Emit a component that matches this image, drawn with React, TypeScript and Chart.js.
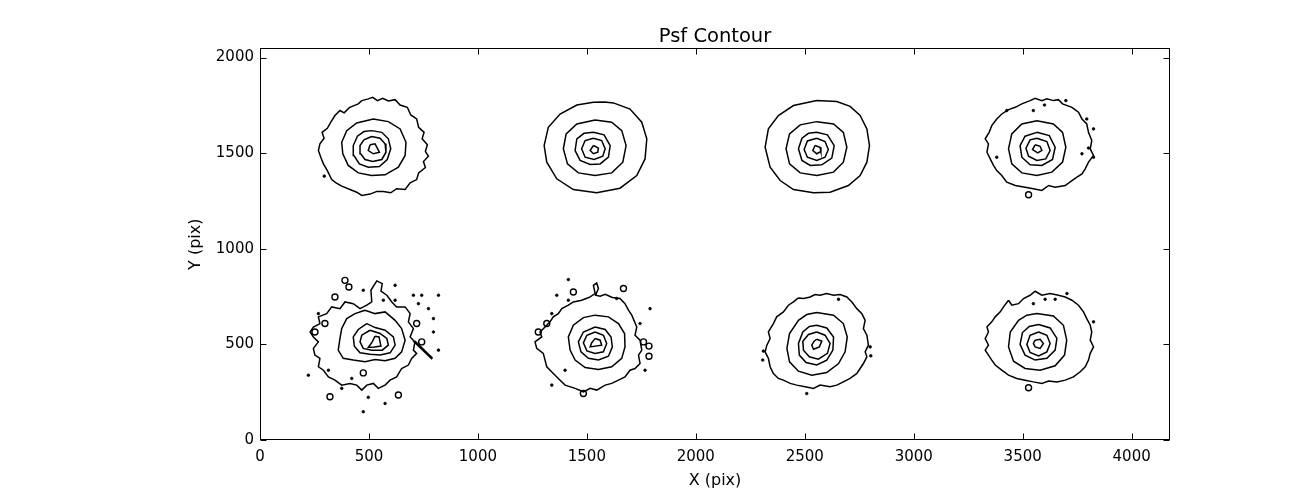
import React, { useEffect, useRef } from "react";
import { Chart, registerables } from "chart.js";

Chart.register(...registerables);

type Pt = [number, number];

// ---- axes / text ----
const X_MAX = 4176;
const Y_MAX = 2048;
const xTicks = [0, 500, 1000, 1500, 2000, 2500, 3000, 3500, 4000];
const yTicks = [0, 500, 1000, 1500, 2000];
const chartTitle = "Psf Contour";
const xTitle = "X (pix)";
const yTitle = "Y (pix)";

// ---- PSF 1 (top left) ----
const psf1Outer: Pt[] = [[467,1775],[497,1784],[517,1792],[539,1775],[563,1787],[589,1773],[620,1780],[643,1752],[676,1740],[692,1700],[719,1679],[728,1635],[753,1609],[744,1575],[768,1544],[759,1509],[773,1484],[750,1456],[759,1425],[728,1397],[719,1362],[689,1345],[666,1310],[627,1314],[600,1293],[566,1300],[536,1300],[505,1286],[467,1279],[444,1296],[413,1310],[375,1328],[349,1345],[329,1362],[309,1409],[291,1444],[279,1479],[268,1514],[275,1549],[294,1578],[285,1609],[309,1630],[325,1662],[344,1697],[367,1723],[386,1711],[410,1738],[431,1749],[451,1758]];
const psf1Ring2: Pt[] = [[520,1679],[589,1665],[643,1627],[670,1557],[666,1488],[635,1427],[574,1387],[512,1383],[451,1397],[405,1436],[380,1497],[375,1557],[398,1618],[444,1658]];
const psf1Ring3: Pt[] = [[512,1618],[559,1609],[589,1575],[600,1523],[584,1467],[548,1430],[497,1427],[456,1444],[431,1488],[428,1540],[447,1589],[477,1613]];
const psf1Ring4: Pt[] = [[512,1587],[551,1578],[574,1549],[578,1505],[559,1467],[517,1456],[482,1467],[462,1497],[459,1540],[477,1570]];
const psf1Core: Pt[] = [[505,1544],[528,1549],[548,1505],[520,1497],[497,1514]];
const psf1Dots: Pt[] = [[295,1380]];

// ---- PSF 2 (top, second) ----
const psf2Outer: Pt[] = [[1530,1766],[1580,1768],[1622,1763],[1698,1731],[1752,1662],[1775,1575],[1767,1470],[1729,1383],[1652,1317],[1545,1293],[1438,1310],[1362,1366],[1316,1453],[1304,1540],[1323,1635],[1377,1705],[1454,1752]];
const psf2Ring2: Pt[] = [[1538,1674],[1614,1662],[1660,1618],[1680,1540],[1665,1453],[1614,1397],[1538,1383],[1461,1397],[1411,1444],[1392,1523],[1405,1601],[1454,1653]];
const psf2Ring3: Pt[] = [[1530,1609],[1579,1596],[1607,1540],[1599,1479],[1561,1444],[1515,1441],[1469,1462],[1446,1514],[1454,1575],[1487,1604]];
const psf2Ring4: Pt[] = [[1530,1578],[1568,1566],[1584,1523],[1573,1484],[1533,1467],[1492,1479],[1476,1523],[1492,1566]];
const psf2Core: Pt[] = [[1530,1540],[1553,1526],[1550,1505],[1530,1497],[1515,1514]];

// ---- PSF 3 (top, third) ----
const psf3Outer: Pt[] = [[2555,1775],[2647,1770],[2708,1745],[2754,1697],[2785,1627],[2797,1540],[2785,1453],[2754,1383],[2700,1331],[2616,1296],[2540,1293],[2448,1310],[2387,1357],[2341,1427],[2318,1531],[2333,1627],[2379,1697],[2448,1749]];
const psf3Ring2: Pt[] = [[2555,1665],[2632,1653],[2677,1609],[2693,1531],[2677,1453],[2632,1401],[2555,1383],[2479,1397],[2430,1444],[2414,1523],[2430,1601],[2479,1648]];
const psf3Ring3: Pt[] = [[2555,1609],[2604,1596],[2635,1540],[2624,1474],[2578,1439],[2525,1436],[2487,1462],[2471,1523],[2487,1578],[2517,1604]];
const psf3Ring4: Pt[] = [[2555,1578],[2593,1561],[2608,1519],[2593,1479],[2555,1462],[2512,1479],[2497,1519],[2512,1564]];
const psf3Core: Pt[] = [[2547,1540],[2570,1531],[2574,1509],[2555,1497],[2537,1514]];

// ---- PSF 4 (top right) ----
const psf4Outer: Pt[] = [[3534,1775],[3557,1787],[3588,1775],[3611,1784],[3641,1775],[3664,1780],[3683,1758],[3726,1740],[3756,1714],[3772,1679],[3794,1653],[3802,1609],[3817,1566],[3810,1523],[3825,1488],[3802,1453],[3787,1418],[3772,1392],[3749,1375],[3726,1357],[3695,1331],[3649,1322],[3619,1331],[3588,1305],[3549,1314],[3511,1322],[3466,1331],[3427,1348],[3404,1383],[3381,1409],[3366,1436],[3351,1470],[3336,1505],[3343,1549],[3328,1575],[3346,1609],[3358,1644],[3381,1679],[3404,1705],[3435,1728],[3466,1740],[3496,1758]];
const psf4Ring2: Pt[] = [[3565,1670],[3641,1653],[3683,1609],[3698,1531],[3683,1453],[3634,1401],[3565,1383],[3496,1397],[3450,1444],[3435,1523],[3450,1601],[3496,1653]];
const psf4Ring3: Pt[] = [[3565,1609],[3622,1592],[3649,1531],[3637,1467],[3588,1436],[3534,1439],[3496,1479],[3488,1540],[3511,1589]];
const psf4Ring4: Pt[] = [[3565,1578],[3611,1561],[3626,1514],[3606,1470],[3565,1462],[3527,1484],[3515,1526],[3534,1570]];
const psf4Core: Pt[] = [[3557,1544],[3580,1536],[3588,1514],[3569,1502],[3545,1519]];
const psf4Dots: Pt[] = [[3427,1723],[3549,1723],[3600,1752],[3698,1775],[3794,1679],[3825,1627],[3802,1527],[3825,1479],[3772,1497],[3381,1479]];
const psf4Loops: Pt[] = [[3527,1283]];

// ---- PSF 5 (bottom left) ----
const psf5Outer: Pt[] = [[513,722],[509,783],[536,832],[561,818],[555,779],[582,757],[605,722],[627,696],[666,696],[689,661],[681,618],[704,583],[689,539],[711,513],[704,470],[719,453],[696,427],[681,392],[650,374],[627,330],[597,313],[574,287],[543,270],[520,296],[490,287],[467,261],[444,287],[413,296],[375,287],[344,313],[314,330],[291,365],[268,383],[275,427],[252,444],[245,479],[268,513],[245,539],[230,565],[245,591],[275,609],[268,644],[306,661],[329,696],[367,687],[390,722],[428,713],[459,687],[490,705]];
const psf5Spur: Pt[] = [[711,518],[790,430],[787,426],[708,512]];
const psf5Ring2: Pt[] = [[482,679],[528,661],[574,670],[620,626],[650,583],[666,522],[650,461],[620,427],[574,414],[528,421],[482,409],[428,418],[382,427],[359,470],[367,531],[375,583],[398,635],[436,661]];
const psf5Ring3: Pt[] = [[490,609],[528,588],[574,574],[612,539],[620,496],[597,456],[551,444],[505,449],[459,456],[433,491],[428,539],[451,578]];
const psf5Ring4: Pt[] = [[505,574],[551,557],[582,531],[589,496],[561,470],[513,470],[474,479],[459,513],[467,548]];
const psf5Core: Pt[] = [[528,543],[546,539],[555,491],[525,487],[497,484],[515,513]];
const psf5Dots: Pt[] = [[474,783],[566,731],[620,809],[620,731],[704,757],[742,757],[819,757],[727,713],[773,687],[796,635],[796,565],[819,470],[268,661],[314,365],[222,339],[375,270],[421,322],[574,191],[474,148],[497,223]];
const psf5Loops: Pt[] = [[390,835],[408,800],[344,748],[719,609],[298,609],[252,565],[635,235],[474,351],[742,513],[321,226]];

// ---- PSF 6 (bottom, second) ----
const psf6Outer: Pt[] = [[1515,748],[1538,766],[1530,809],[1545,821],[1553,792],[1540,757],[1561,752],[1584,762],[1617,745],[1652,740],[1675,713],[1691,679],[1706,653],[1729,591],[1721,548],[1744,522],[1752,470],[1737,444],[1744,400],[1721,374],[1698,365],[1675,330],[1645,313],[1614,296],[1584,287],[1545,261],[1515,270],[1484,252],[1446,270],[1400,287],[1369,322],[1346,348],[1316,383],[1308,418],[1300,453],[1270,479],[1262,513],[1293,539],[1285,565],[1308,591],[1331,618],[1346,644],[1369,661],[1385,687],[1415,705],[1438,722],[1476,731]];
const psf6Ring2: Pt[] = [[1538,653],[1599,644],[1645,609],[1673,557],[1675,487],[1660,427],[1614,383],[1553,369],[1492,379],[1446,418],[1423,470],[1415,539],[1438,600],[1484,640]];
const psf6Ring3: Pt[] = [[1538,591],[1584,578],[1611,539],[1617,487],[1599,438],[1553,418],[1507,427],[1473,461],[1461,513],[1484,565]];
const psf6Ring4: Pt[] = [[1538,565],[1576,548],[1591,505],[1576,461],[1538,453],[1500,466],[1484,508],[1500,548]];
const psf6Core: Pt[] = [[1538,531],[1561,522],[1568,496],[1515,487],[1522,508]];
const psf6Dots: Pt[] = [[1415,839],[1362,757],[1415,731],[1339,661],[1637,740],[1790,687],[1744,609],[1767,365],[1400,365],[1339,287]];
const psf6Loops: Pt[] = [[1438,774],[1316,609],[1277,565],[1668,792],[1760,513],[1785,491],[1785,438],[1484,243]];

// ---- PSF 7 (bottom, third) ----
const psf7Outer: Pt[] = [[2471,743],[2494,740],[2525,748],[2547,761],[2570,757],[2601,766],[2632,757],[2662,761],[2693,748],[2716,722],[2739,687],[2762,661],[2777,626],[2769,583],[2785,548],[2792,496],[2777,461],[2785,435],[2769,400],[2754,374],[2739,348],[2708,322],[2677,304],[2647,287],[2616,278],[2570,287],[2540,270],[2502,278],[2463,287],[2433,296],[2402,313],[2379,322],[2356,348],[2341,383],[2333,427],[2318,461],[2326,496],[2341,531],[2333,565],[2356,609],[2371,644],[2402,670],[2425,705],[2448,722]];
const psf7Ring2: Pt[] = [[2555,667],[2632,653],[2677,609],[2695,539],[2685,461],[2655,400],[2601,353],[2532,339],[2471,360],[2430,409],[2418,479],[2430,557],[2471,626],[2509,656]];
const psf7Ring3: Pt[] = [[2555,600],[2601,586],[2632,539],[2629,470],[2601,418],[2555,392],[2506,405],[2475,444],[2471,505],[2491,565],[2521,594]];
const psf7Ring4: Pt[] = [[2555,565],[2593,548],[2616,505],[2604,453],[2562,423],[2521,435],[2494,470],[2491,517],[2517,552]];
const psf7Core: Pt[] = [[2555,527],[2578,517],[2567,487],[2540,475],[2532,496],[2543,517]];
const psf7Dots: Pt[] = [[2655,736],[2307,418],[2310,465],[2800,487],[2803,440],[2509,243]];

// ---- PSF 8 (bottom right) ----
const psf8Outer: Pt[] = [[3435,731],[3450,705],[3481,713],[3504,740],[3534,757],[3557,778],[3588,757],[3626,766],[3664,757],[3695,748],[3726,731],[3756,705],[3779,670],[3794,635],[3810,600],[3817,565],[3810,522],[3825,487],[3810,453],[3802,418],[3787,383],[3764,357],[3733,330],[3695,313],[3657,304],[3619,308],[3588,296],[3549,304],[3511,313],[3473,322],[3435,339],[3404,365],[3374,392],[3358,418],[3343,444],[3328,470],[3343,496],[3328,531],[3343,565],[3336,591],[3358,618],[3374,644],[3397,670],[3412,696]];
const psf8Ring2: Pt[] = [[3565,661],[3641,649],[3687,600],[3702,522],[3692,444],[3649,388],[3580,365],[3511,374],[3458,412],[3435,487],[3443,565],[3481,626],[3519,653]];
const psf8Ring3: Pt[] = [[3573,604],[3626,586],[3657,531],[3649,470],[3611,427],[3557,418],[3511,444],[3488,500],[3499,562],[3530,594]];
const psf8Ring4: Pt[] = [[3573,565],[3611,548],[3626,505],[3611,461],[3573,440],[3534,458],[3519,500],[3534,548]];
const psf8Core: Pt[] = [[3557,522],[3580,527],[3595,505],[3580,479],[3557,487],[3549,505]];
const psf8Dots: Pt[] = [[3549,713],[3603,736],[3649,736],[3703,766],[3825,618]];
const psf8Loops: Pt[] = [[3527,273]];

const contourLines: Pt[][] = [
  psf1Outer, psf1Ring2, psf1Ring3, psf1Ring4, psf1Core,
  psf2Outer, psf2Ring2, psf2Ring3, psf2Ring4, psf2Core,
  psf3Outer, psf3Ring2, psf3Ring3, psf3Ring4, psf3Core,
  psf4Outer, psf4Ring2, psf4Ring3, psf4Ring4, psf4Core,
  psf5Outer, psf5Spur, psf5Ring2, psf5Ring3, psf5Ring4, psf5Core,
  psf6Outer, psf6Ring2, psf6Ring3, psf6Ring4, psf6Core,
  psf7Outer, psf7Ring2, psf7Ring3, psf7Ring4, psf7Core,
  psf8Outer, psf8Ring2, psf8Ring3, psf8Ring4, psf8Core,
];
const islandDots: Pt[] = [...psf1Dots, ...psf4Dots, ...psf5Dots, ...psf6Dots, ...psf7Dots, ...psf8Dots];
const islandLoops: Pt[] = [...psf4Loops, ...psf5Loops, ...psf6Loops, ...psf8Loops];

const FONT = "'DejaVu Sans', 'Liberation Sans', sans-serif";

const framePlugin = {
  id: "frameAndTicks",
  afterDraw(chart: any) {
    const { ctx, chartArea: a, scales } = chart;
    const L = Math.round(a.left) + 0.5;
    const R = Math.round(a.right) - 0.5;
    const T = Math.round(a.top) + 0.5;
    const B = Math.round(a.bottom) - 0.5;
    const len = 6;
    ctx.save();
    ctx.strokeStyle = "#000";
    ctx.lineWidth = 1;
    ctx.beginPath();
    for (const v of xTicks) {
      const px = Math.round(scales.x.getPixelForValue(v)) + 0.5;
      ctx.moveTo(px, B);
      ctx.lineTo(px, B - len);
      ctx.moveTo(px, T);
      ctx.lineTo(px, T + len);
    }
    for (const v of yTicks) {
      const py = Math.round(scales.y.getPixelForValue(v)) + 0.5;
      ctx.moveTo(L, py);
      ctx.lineTo(L + len, py);
      ctx.moveTo(R, py);
      ctx.lineTo(R - len, py);
    }
    ctx.stroke();
    ctx.strokeRect(L, T, R - L, B - T);
    ctx.restore();
  },
};

export default function App() {
  const ref = useRef<HTMLCanvasElement | null>(null);

  useEffect(() => {
    document.body.style.margin = "0";
    if (!ref.current) return;

    const lineSets = contourLines.map((c) => ({
      data: [...c, c[0]].map(([x, y]) => ({ x, y })),
      showLine: true,
      borderColor: "#000",
      borderWidth: 1.5,
      pointRadius: 0,
      pointHoverRadius: 0,
      fill: false,
      tension: 0,
    }));

    const chart = new Chart(ref.current, {
      type: "scatter",
      data: {
        datasets: [
          ...lineSets,
          {
            data: islandDots.map(([x, y]) => ({ x, y })),
            showLine: false,
            pointRadius: 1.3,
            pointBackgroundColor: "#000",
            pointBorderColor: "#000",
            pointBorderWidth: 0.8,
          },
          {
            data: islandLoops.map(([x, y]) => ({ x, y })),
            showLine: false,
            pointRadius: 3,
            pointBackgroundColor: "rgba(0,0,0,0)",
            pointBorderColor: "#000",
            pointBorderWidth: 1.4,
          },
        ] as any,
      },
      options: {
        responsive: false,
        maintainAspectRatio: false,
        animation: false,
        events: [],
        layout: { padding: { left: 0, right: 130, top: 0, bottom: 0 } },
        plugins: {
          legend: { display: false },
          tooltip: { enabled: false },
          title: {
            display: true,
            text: chartTitle,
            color: "#000",
            fullSize: false,
            font: { family: FONT, size: 19.5, weight: "normal" as any },
            padding: { top: 25, bottom: 0 },
          },
        },
        scales: {
          x: {
            type: "linear",
            position: "bottom",
            min: 0,
            max: X_MAX,
            afterBuildTicks: (s: any) => {
              s.ticks = xTicks.map((v) => ({ value: v }));
            },
            afterFit: (s: any) => {
              s.height = 50;
            },
            grid: { display: false, drawTicks: false },
            border: { display: false },
            ticks: {
              color: "#000",
              font: { family: FONT, size: 15 },
              padding: 8,
              maxRotation: 0,
              autoSkip: false,
              callback: (v: any) => String(v),
            },
            title: {
              display: true,
              text: xTitle,
              color: "#000",
              font: { family: FONT, size: 16 },
              padding: { top: 0, bottom: 0 },
            },
          },
          y: {
            type: "linear",
            position: "left",
            min: 0,
            max: Y_MAX,
            afterBuildTicks: (s: any) => {
              s.ticks = yTicks.map((v) => ({ value: v }));
            },
            afterFit: (s: any) => {
              s.width = 260;
            },
            grid: { display: false, drawTicks: false },
            border: { display: false },
            ticks: {
              color: "#000",
              font: { family: FONT, size: 15 },
              padding: 6,
              autoSkip: false,
              callback: (v: any) => String(v),
            },
            title: {
              display: true,
              text: yTitle,
              color: "#000",
              font: { family: FONT, size: 16 },
              padding: { top: 186, bottom: 0 },
            },
          },
        },
      },
      plugins: [framePlugin],
    });

    return () => chart.destroy();
  }, []);

  return (
    <div style={{ width: 1300, height: 490, background: "#fff" }}>
      <canvas ref={ref} width={1300} height={490} style={{ display: "block" }} />
    </div>
  );
}
